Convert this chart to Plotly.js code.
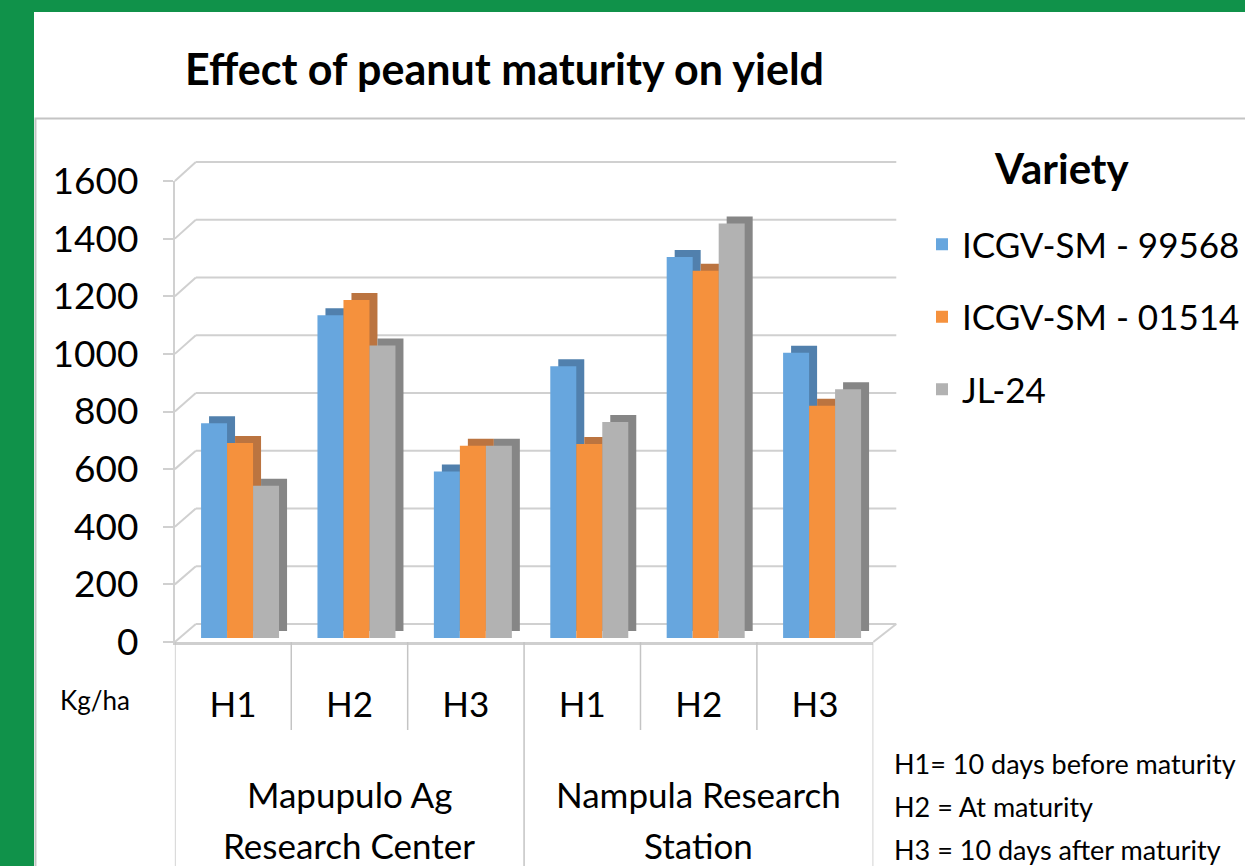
<!DOCTYPE html>
<html>
<head>
<meta charset="utf-8">
<script src="https://cdn.plot.ly/plotly-3.0.1.min.js"></script>
<style>
  html, body { margin:0; padding:0; background:#ffffff; width:1245px; height:866px; overflow:hidden; }
  #greenLeft { position:absolute; left:0; top:0; width:34px; height:866px; background:#10924a; }
  #greenTop { position:absolute; left:0; top:0; width:1245px; height:12px; background:#10924a; }
  #chart { position:absolute; left:0; top:0; width:1245px; height:866px; }
</style>
</head>
<body>
<div id="greenLeft"></div>
<div id="greenTop"></div>
<div id="chart"></div>
<script>
// ---------------- data ----------------
const sites = ["Mapupulo Ag Research Center", "Nampula Research Station"];
const siteLabelLines = [["Mapupulo Ag", "Research Center"], ["Nampula Research", "Station"]];
const harvests = ["H1", "H2", "H3"];
const varieties = ["ICGV-SM - 99568", "ICGV-SM - 01514", "JL-24"];
const icgv99568 = [745, 1120, 578, 943, 1322, 990];
const icgv01514 = [677, 1173, 667, 673, 1275, 806];
const jl24 = [528, 1015, 667, 750, 1439, 863];
const yTicks = [0, 200, 400, 600, 800, 1000, 1200, 1400, 1600];
const notes = ["H1= 10 days before maturity", "H2 = At maturity", "H3 = 10 days after maturity"];
const unitLabel = "Kg/ha";
const chartTitle = "Effect of peanut maturity on yield";
const legendTitle = "Variety";

// ---------------- styling ----------------
const W = 1245, H = 866;
const px = x => x / W;
const py = y => 1 - y / H;
const FONT = "Lato, 'Open Sans', sans-serif";
const frontColors = ["#67a6de", "#f5913d", "#b2b2b2"];
const depthColors = ["#5180ad", "#bb7440", "#868686"];
const seriesValues = [icgv99568, icgv01514, jl24];

// category list (site x harvest)
const catSite = [], catHarv = [];
sites.forEach((s, si) => harvests.forEach(h => { catSite.push(si); catHarv.push(h); }));
const idx = catHarv.map((_, i) => i);

// geometry (pixels)
const barBase = 638, barTop = 177;     // bar plane 0 and 1600
const frontBase = 642, frontTop = 181; // front axis 0 and 1600
const backBase = 624, backTop = 162;   // back wall 0 and 1600
const frontLeft = 175, frontRight = 874;
const backLeft = 196, backRight = 897;
const barShift = 7;                    // bar plane horizontal offset
const dx = 8, dy = 7;                  // bar depth
const yMax = 1600;

const traces = [];
varieties.forEach((v, k) => {
  traces.push({
    type: "bar", x: idx, y: seriesValues[k], name: v, legendgroup: v,
    xaxis: "x2", yaxis: "y2", showlegend: false, hoverinfo: "skip",
    marker: { color: depthColors[k], line: { width: 0 } }
  });
});
varieties.forEach((v, k) => {
  traces.push({
    type: "bar", x: idx, y: seriesValues[k], name: v, legendgroup: v,
    xaxis: "x3", yaxis: "y3", showlegend: true,
    marker: { color: frontColors[k], line: { width: 0 } }
  });
});

const shapes = [];
const gridColor = "#d0d0d0";
yTicks.forEach(t => {
  const yf = frontBase - (frontBase - frontTop) * t / yMax;
  const yb = backBase - (backBase - backTop) * t / yMax;
  // side-wall connector from front axis to back wall
  shapes.push({ type: "line", xref: "paper", yref: "paper", layer: "below",
    x0: px(frontLeft), y0: py(yf), x1: px(backLeft), y1: py(yb),
    line: { color: gridColor, width: 2 } });
  // back-wall gridline
  shapes.push({ type: "line", xref: "paper", yref: "paper", layer: "below",
    x0: px(backLeft), y0: py(yb), x1: px(backRight), y1: py(yb),
    line: { color: gridColor, width: 2 } });
});
// floor right edge
shapes.push({ type: "line", xref: "paper", yref: "paper", layer: "below",
  x0: px(frontRight), y0: py(frontBase), x1: px(backRight), y1: py(backBase),
  line: { color: gridColor, width: 2 } });
// category dividers
for (let b = 0; b <= idx.length; b++) {
  const isGroup = b % harvests.length === 0;
  shapes.push({ type: "line", xref: "x4", yref: "paper",
    x0: b - 0.5, x1: b - 0.5, y0: py(frontBase), y1: isGroup ? py(880) : py(730),
    line: { color: "#c4c4c4", width: 1.5 } });
}
// chart-area frame
shapes.push({ type: "rect", xref: "paper", yref: "paper",
  x0: px(35.5), y0: py(118.5), x1: 1.2, y1: -0.2,
  line: { color: "#c4c4c4", width: 2 }, fillcolor: "rgba(0,0,0,0)" });

const annotations = [];
siteLabelLines.forEach((lines, si) => {
  const center = si * harvests.length + (harvests.length - 1) / 2;
  lines.forEach((ln, li) => {
    annotations.push({ xref: "x4", yref: "paper", x: center, y: py(794 + li * 51),
      text: ln, showarrow: false, xanchor: "center", yanchor: "middle",
      font: { size: 35, color: "#000", family: FONT } });
  });
});
annotations.push({ xref: "paper", yref: "paper", x: px(95), y: py(700), text: unitLabel,
  showarrow: false, xanchor: "center", yanchor: "middle", font: { size: 26, color: "#000", family: FONT } });
notes.forEach((n, i) => {
  annotations.push({ xref: "paper", yref: "paper", x: px(893), y: py(763 + i * 43), text: n,
    showarrow: false, xanchor: "left", yanchor: "middle", font: { size: 27, color: "#000", family: FONT } });
});
// legend heading
annotations.push({ xref: "paper", yref: "paper", x: px(1062), y: py(168), text: legendTitle,
  showarrow: false, xanchor: "center", yanchor: "middle",
  font: { size: 42, weight: 700, color: "#000", family: FONT } });

const noAxis = { visible: false, fixedrange: true };
const layout = {
  width: W, height: H,
  margin: { l: 0, r: 0, t: 0, b: 0, pad: 0 },
  paper_bgcolor: "rgba(0,0,0,0)", plot_bgcolor: "rgba(0,0,0,0)",
  font: { family: FONT, color: "#000" },
  title: { text: chartTitle, font: { size: 43, weight: 700, family: FONT, color: "#000" },
    x: px(185), xanchor: "left", xref: "container", y: py(70), yanchor: "middle", yref: "container" },
  barmode: "group", bargap: 0.33, bargroupgap: 0,
  showlegend: true,
  legend: { x: px(923), y: py(215), xanchor: "left", yanchor: "top",
    bgcolor: "rgba(0,0,0,0)", font: { size: 35, family: FONT, color: "#000" },
    traceorder: "grouped", tracegroupgap: 24 },
  // back wall frame (axes only, grid drawn as shapes)
  xaxis: { domain: [px(backLeft), px(backRight)], range: [0, 1], anchor: "y", visible: false, fixedrange: true },
  yaxis: { domain: [py(backBase), py(backTop)], range: [0, yMax], anchor: "x", visible: false, fixedrange: true },
  // depth bars
  xaxis2: Object.assign({ domain: [px(frontLeft + barShift + dx), px(frontRight + barShift + dx)], range: [-0.5, idx.length - 0.5], anchor: "y2" }, noAxis),
  yaxis2: Object.assign({ domain: [py(barBase - dy), py(barTop - dy)], range: [0, yMax], anchor: "x2" }, noAxis),
  // front bars
  xaxis3: Object.assign({ domain: [px(frontLeft + barShift), px(frontRight + barShift)], range: [-0.5, idx.length - 0.5], anchor: "y3" }, noAxis),
  yaxis3: Object.assign({ domain: [py(barBase), py(barTop)], range: [0, yMax], anchor: "x3" }, noAxis),
  // front label axes
  xaxis4: { domain: [px(frontLeft), px(frontRight)], range: [-0.5, idx.length - 0.5], anchor: "y4",
    tickvals: idx, ticktext: catHarv, ticks: "", showline: true, linecolor: "#cfcfcf", linewidth: 3,
    showgrid: false, zeroline: false, tickfont: { size: 35, family: FONT, color: "#000" },
    ticklabelstandoff: 30, fixedrange: true },
  yaxis4: { domain: [py(frontBase), py(frontTop)], range: [0, yMax], anchor: "x4",
    tickvals: yTicks, ticks: "outside", ticklen: 10, tickcolor: gridColor, tickwidth: 2,
    showline: true, linecolor: gridColor, linewidth: 2, showgrid: false, zeroline: false,
    tickfont: { size: 37, family: FONT, color: "#000" }, ticklabelstandoff: 17, fixedrange: true },
  shapes: shapes,
  annotations: annotations
};

Plotly.newPlot("chart", traces, layout, { displayModeBar: false, staticPlot: true });
</script>
</body>
</html>
